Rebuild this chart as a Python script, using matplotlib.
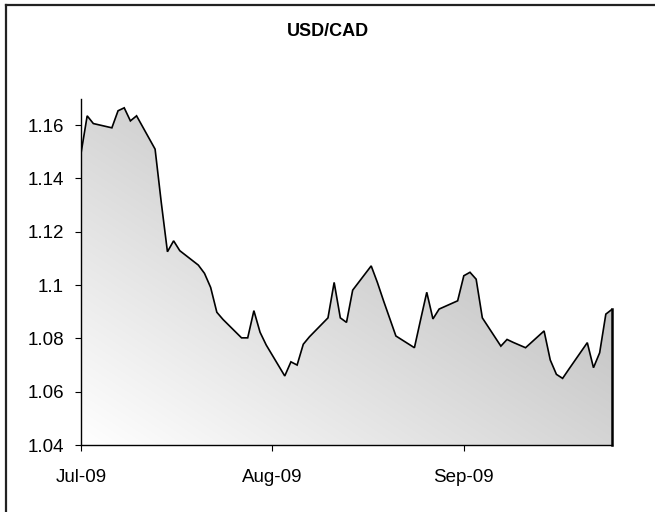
import matplotlib
matplotlib.use("Agg")
import matplotlib.pyplot as plt
import matplotlib.dates as mdates
from matplotlib.lines import Line2D
import numpy as np
import pandas as pd


TITLE = "USD/CAD"

# business days, Jul 1 - Sep 25 2009
DATES = ["2009-07-01", "2009-07-02", "2009-07-03", "2009-07-06", "2009-07-07",
         "2009-07-08", "2009-07-09", "2009-07-10", "2009-07-13", "2009-07-14",
         "2009-07-15", "2009-07-16", "2009-07-17", "2009-07-20", "2009-07-21",
         "2009-07-22", "2009-07-23", "2009-07-24", "2009-07-27", "2009-07-28",
         "2009-07-29", "2009-07-30", "2009-07-31", "2009-08-03", "2009-08-04",
         "2009-08-05", "2009-08-06", "2009-08-07", "2009-08-10", "2009-08-11",
         "2009-08-12", "2009-08-13", "2009-08-14", "2009-08-17", "2009-08-18",
         "2009-08-19", "2009-08-20", "2009-08-21", "2009-08-24", "2009-08-25",
         "2009-08-26", "2009-08-27", "2009-08-28", "2009-08-31", "2009-09-01",
         "2009-09-02", "2009-09-03", "2009-09-04", "2009-09-07", "2009-09-08",
         "2009-09-09", "2009-09-10", "2009-09-11", "2009-09-14", "2009-09-15",
         "2009-09-16", "2009-09-17", "2009-09-18", "2009-09-21", "2009-09-22",
         "2009-09-23", "2009-09-24", "2009-09-25"]

RATES = [1.1494, 1.1635, 1.1606, 1.1590, 1.1654,
         1.1665, 1.1616, 1.1635, 1.1510, 1.1310,
         1.1125, 1.1166, 1.1129, 1.1075, 1.1044,
         1.0991, 1.0898, 1.0871, 1.0802, 1.0802,
         1.0904, 1.0823, 1.0775, 1.0659, 1.0712,
         1.0700, 1.0778, 1.0806, 1.0877, 1.1010,
         1.0877, 1.0860, 1.0981, 1.1072, 1.1010,
         1.0941, 1.0875, 1.0809, 1.0765, 1.0870,
         1.0973, 1.0873, 1.0910, 1.0941, 1.1035,
         1.1048, 1.1022, 1.0877, 1.0771, 1.0796,
         1.0785, 1.0775, 1.0765, 1.0828, 1.0719,
         1.0665, 1.0650, 1.0684, 1.0784, 1.0690,
         1.0746, 1.0891, 1.0909]

Y_TICKS = [1.04, 1.06, 1.08, 1.10, 1.12, 1.14, 1.16]
Y_LABELS = ["1.04", "1.06", "1.08", "1.1", "1.12", "1.14", "1.16"]
X_TICKS = ["2009-07-01", "2009-08-01", "2009-09-01"]
X_LABELS = ["Jul-09", "Aug-09", "Sep-09"]

plt.rcParams['font.family'] = ['Liberation Sans', 'DejaVu Sans']

x = mdates.date2num(pd.to_datetime(DATES))
y = np.array(RATES)
ymin, ymax = 1.04, 1.17

fig = plt.figure(figsize=(6.55, 5.12), dpi=100)
ax = fig.add_axes([81 / 655, 67 / 512, 531 / 655, 346.5 / 512])
ax.set_xlim(x[0], x[-1])
ax.set_ylim(ymin, ymax)

# gradient fill clipped to the area under the curve
nx, ny = 300, 200
xf = np.linspace(0, 1, nx)[None, :]
yf = np.linspace(0, 1, ny)[:, None]
t = (xf + yf) / 2
shade = 1 - 0.33 * t
rgb = np.dstack([shade, shade, shade])
im = ax.imshow(rgb, extent=[x[0], x[-1], ymin, ymax], origin="lower",
               aspect="auto", interpolation="bilinear", zorder=1)
poly = ax.fill_between(x, ymin, y, facecolor="none", edgecolor="none")
im.set_clip_path(poly.get_paths()[0], transform=ax.transData)

ax.plot(x, y, color="black", lw=1.2, zorder=3, solid_joinstyle="miter")
ax.plot([x[-1], x[-1]], [ymin, y[-1]], color="black", lw=1.8, zorder=3,
        clip_on=False)

ax.set_yticks(Y_TICKS)
ax.set_yticklabels(Y_LABELS)
ax.set_xticks(mdates.date2num(pd.to_datetime(X_TICKS)))
ax.set_xticklabels(X_LABELS)
ax.tick_params(axis="y", direction="out", length=4.3, width=0.8, pad=8,
               labelsize=13.5)
ax.tick_params(axis="x", direction="out", length=4.3, width=0.8, pad=13,
               labelsize=13.5)

for side in ["top", "right"]:
    ax.spines[side].set_visible(False)
for side in ["left", "bottom"]:
    ax.spines[side].set_linewidth(1.0)
    ax.spines[side].set_zorder(4)

fig.text(327.5 / 655, 1 - 32 / 512, TITLE, ha="center", va="center",
         fontsize=13, fontweight="bold")

# chart frame (only top and left edges fall inside the image)
fig.add_artist(Line2D([6 / 655, 1.0], [1 - 5 / 512, 1 - 5 / 512],
                      transform=fig.transFigure, color="#222222", lw=1.6))
fig.add_artist(Line2D([6 / 655, 6 / 655], [0.0, 1 - 5 / 512],
                      transform=fig.transFigure, color="#222222", lw=1.6))

fig.savefig("out.png", dpi=100)
